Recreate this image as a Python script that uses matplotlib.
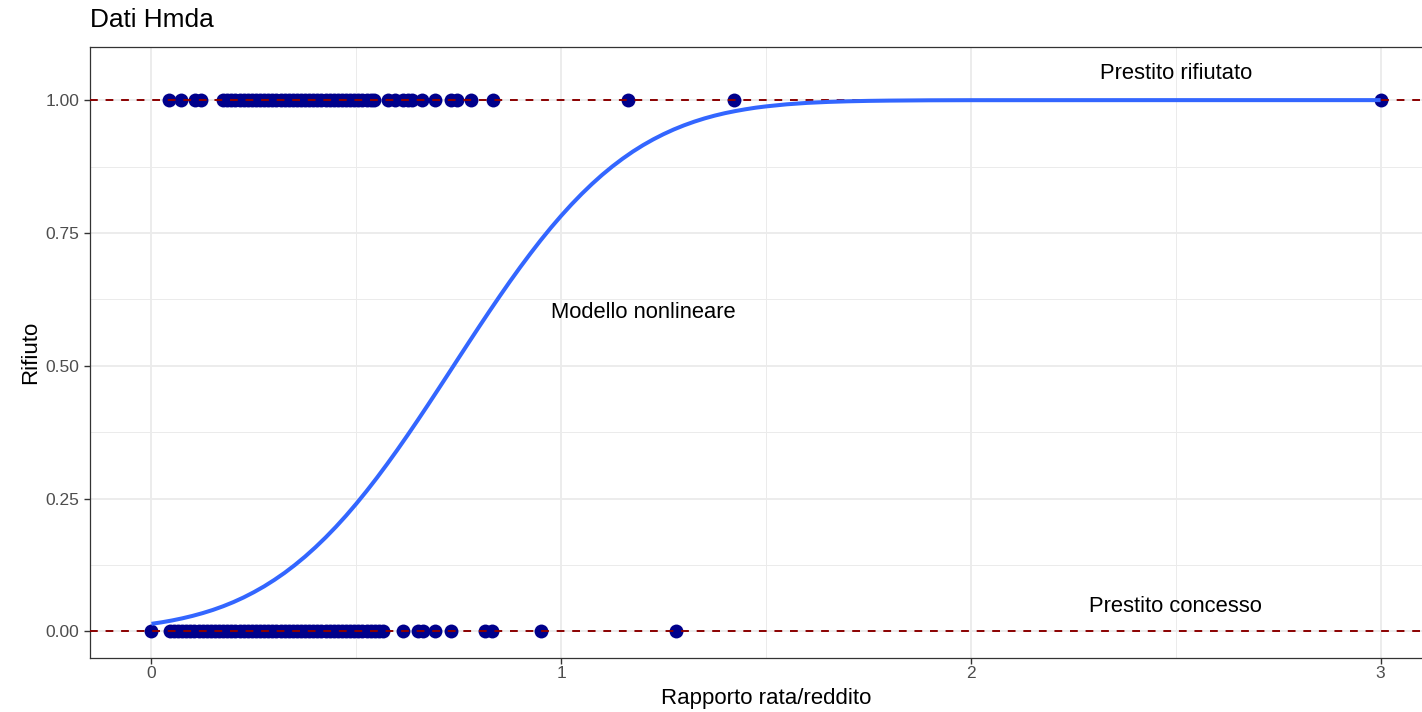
import matplotlib
matplotlib.use('Agg')
import matplotlib.pyplot as plt
from matplotlib.ticker import MultipleLocator, FormatStrFormatter

plt.rcParams['font.family'] = ['Liberation Sans', 'DejaVu Sans']

# payment/income ratio of rejected applications (deny = 1)
pirat_denied = [
    0.042, 0.071, 0.106, 0.120,
    0.175, 0.185, 0.195, 0.205, 0.215, 0.225, 0.235, 0.245, 0.255, 0.265,
    0.275, 0.285, 0.295, 0.305, 0.315, 0.325, 0.335, 0.345, 0.355, 0.365,
    0.375, 0.385, 0.395, 0.405, 0.415, 0.425, 0.435, 0.445, 0.455, 0.465,
    0.475, 0.485, 0.495, 0.505, 0.515, 0.525, 0.537,
    0.544, 0.578, 0.594, 0.614, 0.627, 0.635, 0.661, 0.692, 0.732, 0.745,
    0.781, 0.833, 1.162, 1.422, 3.0,
]

# payment/income ratio of accepted applications (deny = 0)
pirat_accepted = [
    0.0,
    0.045, 0.055, 0.065, 0.075, 0.085, 0.095, 0.105, 0.115, 0.125, 0.135,
    0.145, 0.155, 0.165, 0.175, 0.185, 0.195, 0.205, 0.215, 0.225, 0.235,
    0.245, 0.255, 0.265, 0.275, 0.285, 0.295, 0.305, 0.315, 0.325, 0.335,
    0.345, 0.355, 0.365, 0.375, 0.385, 0.395, 0.405, 0.415, 0.425, 0.435,
    0.445, 0.455, 0.465, 0.475, 0.485, 0.495, 0.505, 0.515, 0.525, 0.535,
    0.545, 0.555, 0.566,
    0.613, 0.651, 0.663, 0.693, 0.732, 0.814, 0.830, 0.952, 1.281,
]

# fitted probability of rejection (nonlinear model)
fit_x = [0.0, 0.025, 0.05, 0.075, 0.1, 0.125, 0.15, 0.175, 0.2, 0.225,
         0.25, 0.275, 0.3, 0.325, 0.35, 0.375, 0.4, 0.425, 0.45, 0.475,
         0.5, 0.525, 0.55, 0.575, 0.6, 0.625, 0.65, 0.675, 0.7, 0.725,
         0.75, 0.775, 0.8, 0.825, 0.85, 0.875, 0.9, 0.925, 0.95, 0.975,
         1.0, 1.025, 1.05, 1.075, 1.1, 1.125, 1.15, 1.175, 1.2, 1.225,
         1.25, 1.275, 1.3, 1.325, 1.35, 1.375, 1.4, 1.425, 1.45, 1.475,
         1.5, 1.55, 1.6, 1.65, 1.7, 1.75, 1.8, 1.9, 2.0, 2.5, 3.0]
fit_y = [0.0143, 0.0172, 0.0206, 0.0246, 0.0292, 0.0345, 0.0405, 0.0474,
         0.0552, 0.0640, 0.0739, 0.0848, 0.0970, 0.1103, 0.1250, 0.1409,
         0.1582, 0.1768, 0.1967, 0.2179, 0.2404, 0.2641, 0.2889, 0.3148,
         0.3416, 0.3693, 0.3976, 0.4265, 0.4558, 0.4853, 0.5150, 0.5445,
         0.5738, 0.6027, 0.6310, 0.6587, 0.6855, 0.7113, 0.7362, 0.7599,
         0.7823, 0.8035, 0.8234, 0.8420, 0.8593, 0.8752, 0.8898, 0.9032,
         0.9153, 0.9262, 0.9360, 0.9448, 0.9526, 0.9595, 0.9656, 0.9709,
         0.9755, 0.9794, 0.9828, 0.9858, 0.9882, 0.9921, 0.9948, 0.9966,
         0.9978, 0.9986, 0.9991, 0.9997, 0.9999, 1.0, 1.0]

W, H = 1422, 712
fig = plt.figure(figsize=(W / 100, H / 100), dpi=100)
x_lo, x_hi = -0.15, 3.15
px_per_unit = 409.7
left_px, bottom_px, top_px = 90, 54, 47
ax = fig.add_axes([left_px / W, bottom_px / H,
                   (x_hi - x_lo) * px_per_unit / W, (H - bottom_px - top_px) / H])

ax.set_xlim(x_lo, x_hi)
ax.set_ylim(-0.05, 1.1)

# theme_bw-like grid and border
ax.xaxis.set_major_locator(MultipleLocator(1))
ax.xaxis.set_minor_locator(MultipleLocator(0.5))
ax.yaxis.set_major_locator(MultipleLocator(0.25))
ax.yaxis.set_minor_locator(MultipleLocator(0.125))
ax.yaxis.set_major_formatter(FormatStrFormatter('%.2f'))
ax.grid(which='major', color='#EBEBEB', linewidth=1.3)
ax.grid(which='minor', color='#EBEBEB', linewidth=0.7)
ax.set_axisbelow(True)
for s in ax.spines.values():
    s.set_color('#333333')
    s.set_linewidth(0.9)
ax.tick_params(which='major', length=4, color='#333333', labelcolor='#4D4D4D',
               labelsize=12.5, width=1.0)
ax.tick_params(axis='x', pad=1.5)
ax.tick_params(which='minor', length=0)

ax.scatter(pirat_denied, [1] * len(pirat_denied), s=100, color='#00008B',
           linewidths=0, zorder=3)
ax.scatter(pirat_accepted, [0] * len(pirat_accepted), s=100, color='#00008B',
           linewidths=0, zorder=3)

for yv in (0, 1):
    ax.axhline(yv, color='#8B0000', linestyle=(0, (4, 4)), linewidth=1.4, zorder=4)

ax.plot(fit_x, fit_y, color='#3366FF', linewidth=2.9, zorder=5,
        solid_capstyle='butt')

ax.text(2.5, 1.05, 'Prestito rifiutato', ha='center', va='center', fontsize=15.8)
ax.text(2.5, 0.047, 'Prestito concesso', ha='center', va='center', fontsize=15.8)
ax.text(1.2, 0.6, 'Modello nonlineare', ha='center', va='center', fontsize=15.8)

ax.set_xlabel('Rapporto rata/reddito', fontsize=16, labelpad=5)
ax.set_ylabel('Rifiuto', fontsize=16, labelpad=3)
fig.text(left_px / W, 1 - 20 / H, 'Dati Hmda', fontsize=18.9, ha='left', va='center')

fig.savefig('out.png', dpi=100)
